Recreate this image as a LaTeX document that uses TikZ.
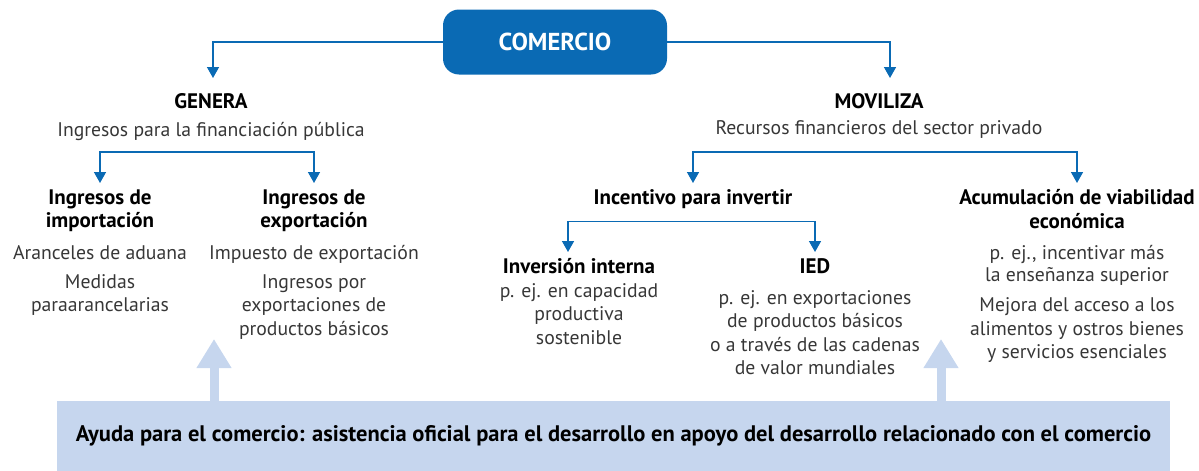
\documentclass[tikz,border=0pt]{standalone}
\usepackage{fontspec}
\setmainfont{PT Sans}
\usetikzlibrary{arrows.meta}
\definecolor{tradeblue}{RGB}{10,106,180}
\definecolor{aidblue}{RGB}{198,214,238}
\definecolor{desctext}{RGB}{55,55,55}
\tikzset{
  link/.style={draw=tradeblue, line width=1.5pt, -{Triangle[width=12pt,length=11pt]}},
  twolink/.style={link, {Triangle[width=12pt,length=11pt]}-{Triangle[width=12pt,length=11pt]}},
  item/.style={anchor=north, align=center, inner xsep=0pt, inner ysep=6.5pt, text=desctext, font=\fontsize{19.7}{23.5}\selectfont},
  lift/.style={draw=aidblue, line width=9pt, -{Triangle[width=33pt,length=29pt]}},
}
\newcommand{\ttl}[1]{{\fontsize{21}{23.5}\selectfont\bfseries\color{black}#1}}

\begin{document}
\begin{tikzpicture}[x=1pt, y=-1pt]
			%%%%% START %%%%%
			\useasboundingbox (0,0) rectangle (1199,471);
			
			\node[fill=tradeblue, rounded corners=16pt, minimum width=224pt, minimum height=65pt, text=white, font=\bfseries\fontsize{24.5}{28}\selectfont] (comercio) at (555,42) {COMERCIO};
			
			\node[item, inner ysep=15pt] (genera) at (211,78) {\ttl{GENERA}\\[5pt]Ingresos para la financiación pública};
			\node[item, inner ysep=15pt] (movi) at (879,78) {\ttl{MOVILIZA}\\[2.5pt]Recursos financieros del sector privado};
			
			\node[item] (imp) at (100,183) {\ttl{Ingresos de}\\\ttl{importación}\\[8pt]Aranceles de aduana\\[5.5pt]Medidas\\paraarancelarias};
			\node[item] (exp) at (314,183) {\ttl{Ingresos de}\\\ttl{exportación}\\[8pt]Impuesto de exportación\\[5.5pt]Ingresos por\\exportaciones de\\productos básicos};
			\node[item] (incent) at (693,183) {\ttl{Incentivo para invertir}};
			\node[item] (acum) at (1077,183) {\ttl{Acumulación de viabilidad}\\\ttl{económica}\\[8pt]p. ej., incentivar más\\[-1.5pt]la enseñanza superior\\[6.5pt]Mejora del acceso a los\\alimentos y ostros bienes\\y servicios esenciales};
			
			\node[item] (inv) at (579,252) {\ttl{Inversión interna}\\p. ej. en capacidad\\productiva\\sostenible};
			\node[item] (ied) at (815,252) {\ttl{IED}\\[7pt]p. ej. en exportaciones\\de productos básicos\\o a través de las cadenas\\de valor mundiales};
			
			\draw[link] (comercio.west) -| ([xshift=2pt]genera.north);
			\draw[link] (comercio.east) -| ([xshift=11pt]movi.north);
			\draw[twolink] (imp.north) -- ++(0,-31) -| (exp.north);
			\draw[twolink] (incent.north) -- ++(0,-31) -| (acum.north);
			\draw[twolink] ([xshift=-11pt]inv.north) -- ++(0,-30.5) -| (ied.north);
			
			\node[fill=aidblue, inner sep=0pt, minimum width=1113pt, minimum height=70pt, font=\bfseries\fontsize{22.5}{26}\selectfont] (aid) at (613.5,436) {Ayuda para el comercio: asistencia oficial para el desarrollo en apoyo del desarrollo relacionado con el comercio};
			
			\coordinate (liftleft) at (214,339);
			\coordinate (liftright) at (941,339);
			\draw[lift] (aid.north -| liftleft) -- (liftleft);
			\draw[lift] (aid.north -| liftright) -- (liftright);
			%%%%% END %%%%%
\end{tikzpicture}
\end{document}
